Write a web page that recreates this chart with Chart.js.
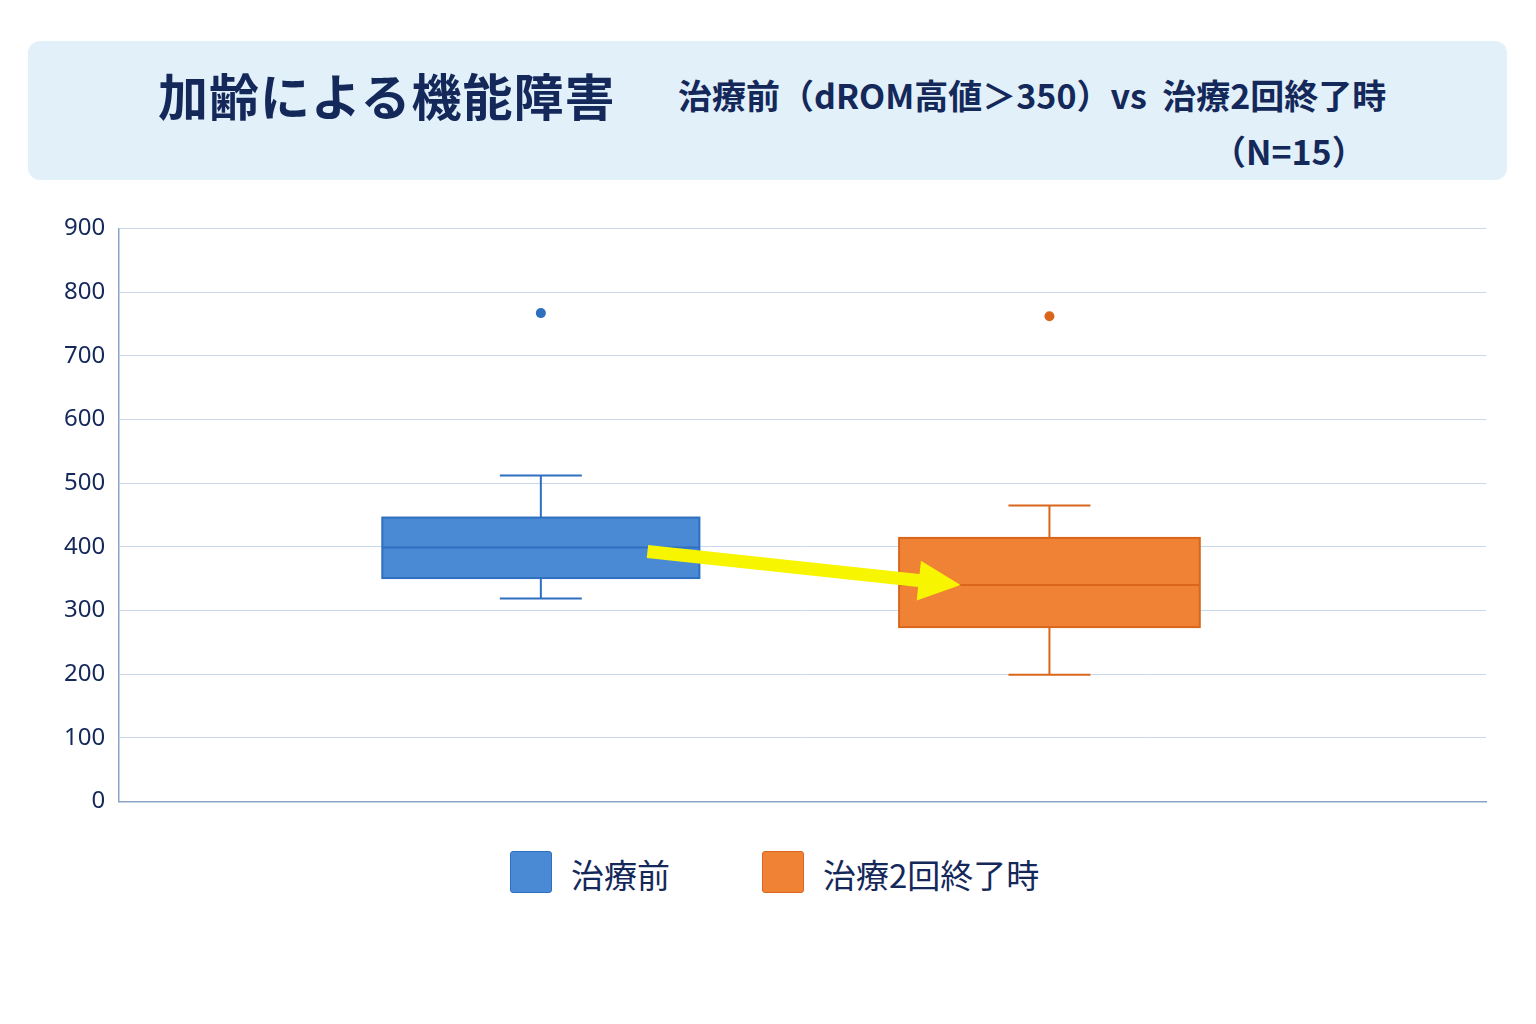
<!DOCTYPE html><html><head><meta charset="utf-8">
<script src="https://cdn.jsdelivr.net/npm/chart.js@4"></script>
<style>
body{margin:0;width:1536px;height:1024px;background:#fff;font-family:"Noto Sans CJK JP",sans-serif;color:#14285a;position:relative;overflow:hidden}
#hdr{position:absolute;left:28px;top:41px;width:1479px;height:139px;background:#e2f0fa;border-radius:12px}
#t1{position:absolute;left:158px;top:58px;font-size:50px;font-weight:700;letter-spacing:1px}
#t2{position:absolute;left:678px;top:70px;font-size:34px;font-weight:700}
#t3{position:absolute;left:1212px;top:126px;font-size:34px;font-weight:700}
#wrap{position:absolute;left:0;top:200px;width:1536px;height:630px}
.lg{position:absolute;top:851px;width:40px;height:40px;border-radius:3px}
.lt{position:absolute;top:850px;font-size:33px}
</style></head><body>
<div id="hdr"></div>
<div id="t1">加齢による機能障害</div>
<div id="t2">治療前（dROM高値＞350）vs&nbsp; 治療2回終了時</div>
<div id="t3">（N=15）</div>
<div id="wrap"><canvas id="c" width="1536" height="630"></canvas></div>
<div class="lg" style="left:510px;background:#4a8ad4;border:1.5px solid #2f6fbf"></div><div class="lt" style="left:571px">治療前</div>
<div class="lg" style="left:762px;background:#ef8235;border:1.5px solid #d9661b"></div><div class="lt" style="left:823px">治療2回終了時</div>
<script>
const categories=['治療前','治療2回終了時'];
const whiskerMin=[319,199];
const q1=[351,274];
const median=[399,340];
const q3=[446,414];
const whiskerMax=[512,465];
const outliers=[767,762];
const yTicks=[0,100,200,300,400,500,600,700,800,900];
const fills=['#4a8ad4','#ef8235'],borders=['#2f6fbf','#d9661b'];
const centers=[0.3085,0.6806],halfW=[0.116,0.110],capW=0.03;
const boxPlugin={id:'box',afterDatasetsDraw(ch){
 const c=ch.ctx,x=ch.scales.x,y=ch.scales.y;
 categories.forEach((n,i)=>{
  const cx=x.getPixelForValue(centers[i]),l=x.getPixelForValue(centers[i]-halfW[i]),r=x.getPixelForValue(centers[i]+halfW[i]);
  const cl=x.getPixelForValue(centers[i]-capW),cr=x.getPixelForValue(centers[i]+capW);
  c.save();c.strokeStyle=borders[i];c.lineWidth=2;
  c.beginPath();c.moveTo(cx,y.getPixelForValue(q3[i]));c.lineTo(cx,y.getPixelForValue(whiskerMax[i]));
  c.moveTo(cl,y.getPixelForValue(whiskerMax[i]));c.lineTo(cr,y.getPixelForValue(whiskerMax[i]));
  c.moveTo(cx,y.getPixelForValue(q1[i]));c.lineTo(cx,y.getPixelForValue(whiskerMin[i]));
  c.moveTo(cl,y.getPixelForValue(whiskerMin[i]));c.lineTo(cr,y.getPixelForValue(whiskerMin[i]));c.stroke();
  const t=y.getPixelForValue(q3[i]),b=y.getPixelForValue(q1[i]);
  c.fillStyle=fills[i];c.fillRect(l,t,r-l,b-t);c.strokeRect(l,t,r-l,b-t);
  c.beginPath();c.moveTo(l,y.getPixelForValue(median[i]));c.lineTo(r,y.getPixelForValue(median[i]));c.stroke();
  c.fillStyle=borders[i];c.beginPath();c.arc(cx,y.getPixelForValue(outliers[i]),5,0,7);c.fill();
  c.restore();
 });
 const x1=x.getPixelForValue(centers[0]+0.078),y1=y.getPixelForValue(median[0])+4;
 const x2=x.getPixelForValue(centers[1]-0.065),y2=y.getPixelForValue(median[1]);
 const a=Math.atan2(y2-y1,x2-x1);c.save();c.fillStyle='#f8f500';c.strokeStyle='#f8f500';c.lineWidth=13;
 c.beginPath();c.moveTo(x1,y1);c.lineTo(x2-35*Math.cos(a),y2-35*Math.sin(a));c.stroke();
 c.beginPath();c.moveTo(x2,y2);c.lineTo(x2-42*Math.cos(a)+20*Math.sin(a),y2-42*Math.sin(a)-20*Math.cos(a));
 c.lineTo(x2-42*Math.cos(a)-20*Math.sin(a),y2-42*Math.sin(a)+20*Math.cos(a));c.fill();c.restore();
}};
new Chart(document.getElementById('c'),{type:'scatter',data:{datasets:[]},
 options:{responsive:false,animation:false,devicePixelRatio:1,
  layout:{padding:{left:50,right:50,top:10,bottom:20}},
  plugins:{legend:{display:false},tooltip:{enabled:false}},
  scales:{x:{type:'linear',min:0,max:1,ticks:{display:false},grid:{display:false},border:{color:'#8aa3c8',width:1.5}},
   y:{min:0,max:900,afterBuildTicks:s=>{s.ticks=yTicks.map(v=>({value:v}))},
    ticks:{color:'#14285a',font:{size:24,family:'Noto Sans'},padding:14},
    grid:{color:'#c9d8ea',borderDash:[5,4],drawTicks:false},border:{color:'#8aa3c8',width:1.5}}}},
 plugins:[boxPlugin]});
</script></body></html>
